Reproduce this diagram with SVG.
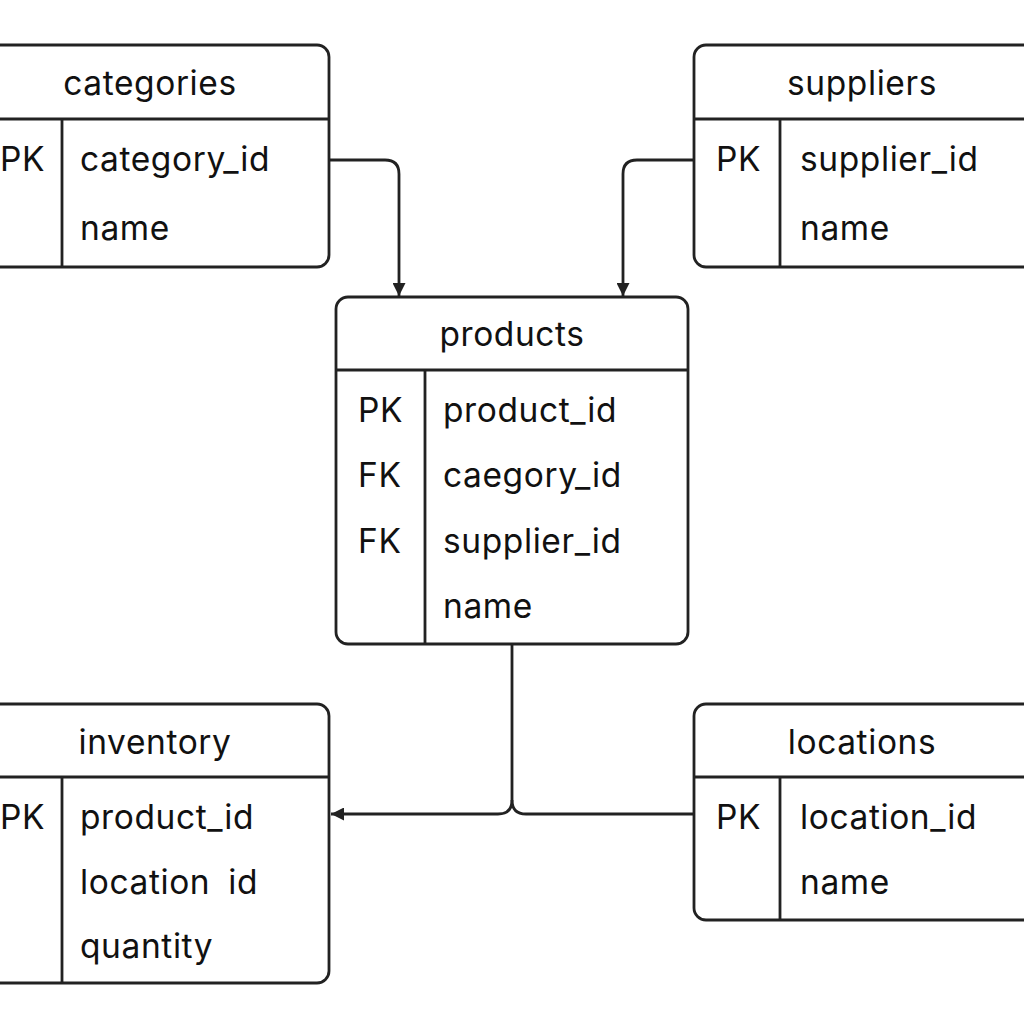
<svg xmlns="http://www.w3.org/2000/svg" width="1024" height="1024" viewBox="0 0 1024 1024">
<defs>
<style>
.box{fill:#fff;stroke:#222;stroke-width:2.8}
.ln{stroke:#222;stroke-width:2.8;fill:none}
.t{font-family:Inter,"Liberation Sans",sans-serif;font-size:33.5px;letter-spacing:0.6px;fill:#111}
.c{text-anchor:middle}
</style>
<marker id="arr" viewBox="0 0 10 10" refX="10" refY="5" markerWidth="13" markerHeight="13" markerUnits="userSpaceOnUse" orient="auto">
<path d="M0,0 L10,5 L0,10 z" fill="#222"/>
</marker>
</defs>
<rect width="1024" height="1024" fill="#fff"/>
<g id="connectors">
<path class="ln" d="M329,160 H385 Q399,160 399,174 V296" marker-end="url(#arr)"/>
<path class="ln" d="M694,160 H637 Q623,160 623,174 V296" marker-end="url(#arr)"/>
<path class="ln" d="M512,644 V800 Q512,814 498,814 H331" marker-end="url(#arr)"/>
<path class="ln" d="M512,800 Q512,814 526,814 H694"/>
</g>
<g id="categories">
<rect class="box" x="-20" y="45" width="349" height="222" rx="12"/>
<line class="ln" x1="-20" y1="119" x2="329" y2="119"/>
<line class="ln" x1="62" y1="119" x2="62" y2="267"/>
<text class="t c" x="150" y="95">categories</text>
<text class="t" x="0" y="171">PK</text>
<text class="t" x="80" y="171">category_id</text>
<text class="t" x="80" y="240">name</text>
</g>
<g id="suppliers">
<rect class="box" x="694" y="45" width="350" height="222" rx="12"/>
<line class="ln" x1="694" y1="119" x2="1044" y2="119"/>
<line class="ln" x1="780" y1="119" x2="780" y2="267"/>
<text class="t c" x="862" y="95">suppliers</text>
<text class="t" x="716" y="171">PK</text>
<text class="t" x="800" y="171">supplier_id</text>
<text class="t" x="800" y="240">name</text>
</g>
<g id="products">
<rect class="box" x="336" y="297" width="352" height="347" rx="12"/>
<line class="ln" x1="336" y1="370" x2="688" y2="370"/>
<line class="ln" x1="425" y1="370" x2="425" y2="644"/>
<text class="t c" x="512" y="346">products</text>
<text class="t" x="358" y="422">PK</text>
<text class="t" x="443" y="422">product_id</text>
<text class="t" x="358" y="487">FK</text>
<text class="t" x="443" y="487">caegory_id</text>
<text class="t" x="358" y="553">FK</text>
<text class="t" x="443" y="553">supplier_id</text>
<text class="t" x="443" y="618">name</text>
</g>
<g id="inventory">
<rect class="box" x="-20" y="704" width="349" height="279" rx="12"/>
<line class="ln" x1="-20" y1="777" x2="329" y2="777"/>
<line class="ln" x1="62" y1="777" x2="62" y2="983"/>
<text class="t c" x="155" y="754">inventory</text>
<text class="t" x="0" y="829">PK</text>
<text class="t" x="80" y="829">product_id</text>
<text class="t" x="80" y="894" style="word-spacing:8px">location id</text>
<text class="t" x="80" y="958">quantity</text>
</g>
<g id="locations">
<rect class="box" x="694" y="704" width="350" height="216" rx="12"/>
<line class="ln" x1="694" y1="777" x2="1044" y2="777"/>
<line class="ln" x1="780" y1="777" x2="780" y2="920"/>
<text class="t c" x="862" y="754">locations</text>
<text class="t" x="716" y="829">PK</text>
<text class="t" x="800" y="829">location_id</text>
<text class="t" x="800" y="894">name</text>
</g>
</svg>
